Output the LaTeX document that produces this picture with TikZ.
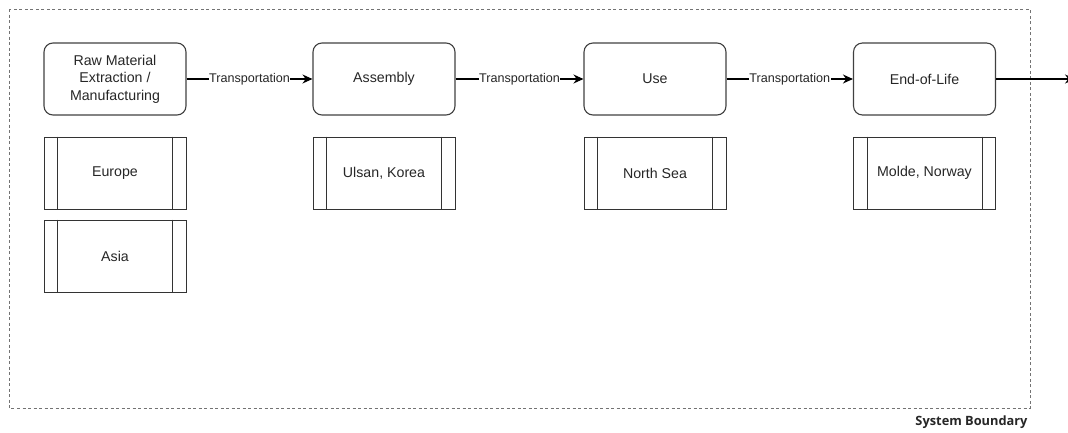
\documentclass[tikz,border=0pt]{standalone}
\usepackage{fontspec}
\setmainfont{Liberation Sans}
\newfontfamily\captionfont{Open Sans}
\usetikzlibrary{arrows.meta}
\begin{document}
\begin{tikzpicture}[x=1pt,y=-1pt,
  stage/.style={draw=black!75,line width=1.1pt,rounded corners=9pt,minimum width=142pt,minimum height=72pt,
    inner sep=0pt,align=center,font=\fontsize{14.2}{17.5}\selectfont,text=black!85},
  place/.style={draw=black!80,line width=1pt,minimum width=142pt,minimum height=72pt,inner sep=0pt,
    font=\fontsize{14.2}{16}\selectfont,text=black!85},
  flow/.style={line width=1.1pt,-{Stealth[length=10pt,width=9pt]}},
  lbl/.style={fill=white,inner sep=0.5pt,font=\fontsize{12.6}{14}\selectfont,text=black!85}]
\useasboundingbox (0,0) rectangle (1068,432);
% system boundary
\draw[black!55,line width=1pt,dash pattern=on 3pt off 2.5pt] (9,9) rectangle (1030,408);
\node[anchor=north east,font=\captionfont\bfseries\fontsize{12.8}{14}\selectfont,text=black!85] (sb) at (1031,412) {System Boundary};
% life-cycle stages
\node[stage] (raw) at (115,79) {Raw Material\\Extraction /\\Manufacturing};
\node[stage] (asm) at (384,79) {Assembly};
\node[stage] (use) at (655,79) {Use};
\node[stage] (eol) at (924.5,79) {End-of-Life};
\coordinate (out) at (1075,79);
% locations
\newcommand{\placebox}[3]{%
  \node[place] (#1) at #2 {#3};
  \draw[black!80,line width=1pt] ([xshift=14pt]#1.north west) -- ([xshift=14pt]#1.south west)
    ([xshift=-14pt]#1.north east) -- ([xshift=-14pt]#1.south east);}
\placebox{eu}{(115,173)}{Europe}
\placebox{as}{(115,256)}{Asia}
\placebox{ul}{(384,173)}{Ulsan, Korea}
\placebox{ns}{(655,173)}{North Sea}
\placebox{mo}{(924.5,173)}{Molde, Norway}
% transport links
\draw[flow] (raw) -- node[lbl] {Transportation} (asm);
\draw[flow] (asm) -- node[lbl] {Transportation} (use);
\draw[flow] (use) -- node[lbl] {Transportation} (eol);
\draw[flow] (eol) -- (out);
\end{tikzpicture}
\end{document}
